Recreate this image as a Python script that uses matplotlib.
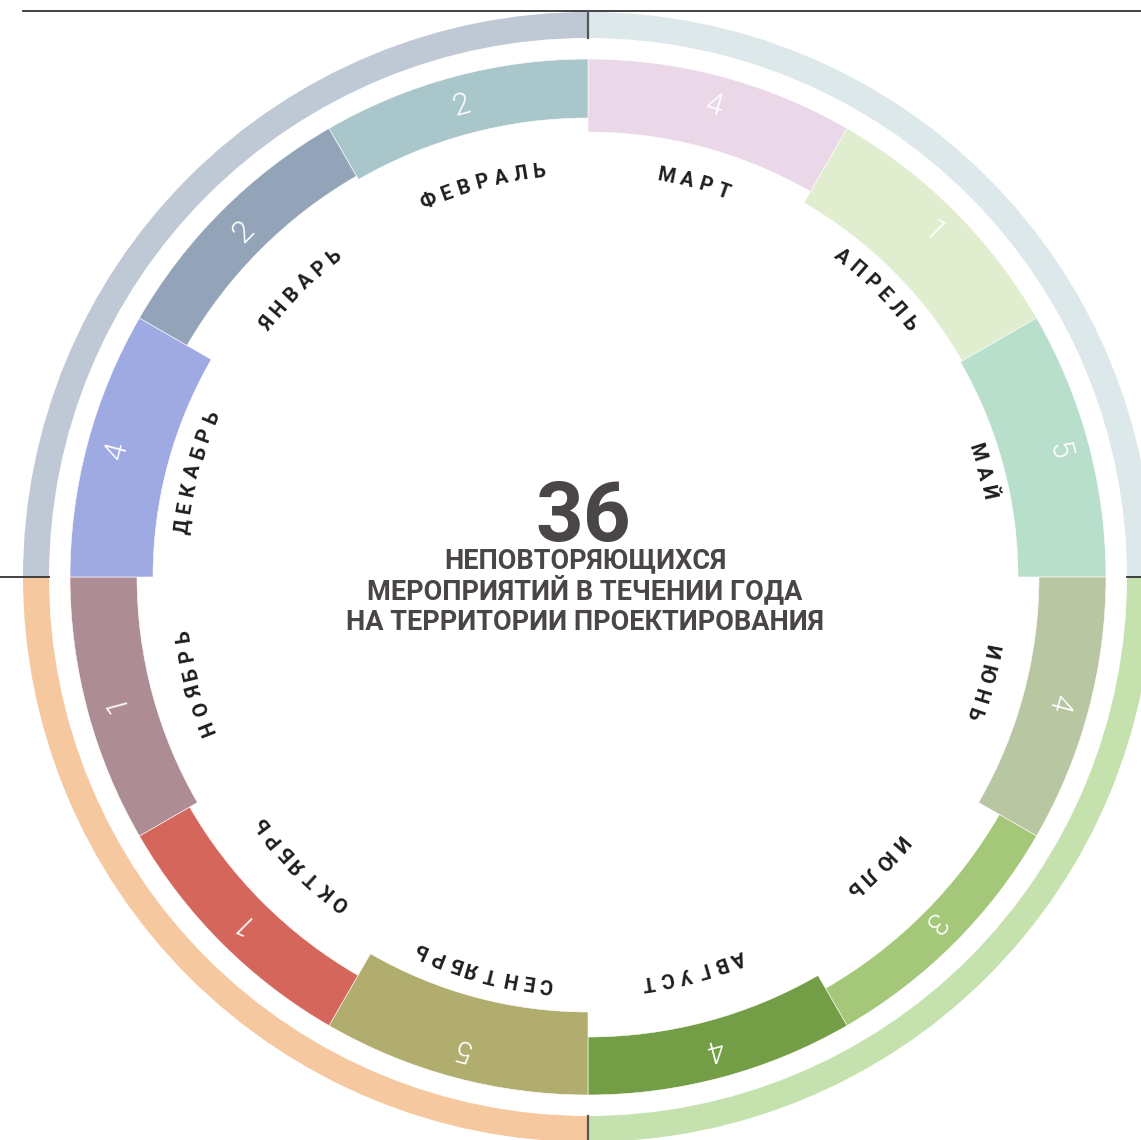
import numpy as np
import matplotlib
matplotlib.use("Agg")
import matplotlib.pyplot as plt
from matplotlib.patches import Wedge
from matplotlib.font_manager import FontProperties
from matplotlib.textpath import text_to_path

# months clockwise from 12 o'clock, events per month
months = ['МАРТ', 'АПРЕЛЬ', 'МАЙ', 'ИЮНЬ', 'ИЮЛЬ', 'АВГУСТ',
          'СЕНТЯБРЬ', 'ОКТЯБРЬ', 'НОЯБРЬ', 'ДЕКАБРЬ', 'ЯНВАРЬ', 'ФЕВРАЛЬ']
events = [4, 1, 5, 4, 3, 4, 5, 1, 1, 4, 2, 2]
caption = ['НЕПОВТОРЯЮЩИХСЯ',
           'МЕРОПРИЯТИЙ В ТЕЧЕНИИ ГОДА',
           'НА ТЕРРИТОРИИ ПРОЕКТИРОВАНИЯ']

# styling
month_colors = ['#EAD7E8', '#E0EDCF', '#B7DFCB', '#B8C6A2', '#A5C77A', '#739E46',
                '#B0AD6F', '#D4665C', '#AE8C94', '#A0AAE2', '#93A4B8', '#A9C6CB']
band_depth = [73, 86, 88, 67, 43, 58, 83, 58, 67, 83, 55, 59]
season_colors = ['#DCE8EA', '#C5E2AE', '#F5C89F', '#BFC9D5']  # spring, summer, autumn, winter
text_color = '#4A4647'

W, H = 1141, 1140
cx, cy = 588, H - 577
r_band = 518
r_season_out, r_season_in = 565, 539
r_label = 403
r_num = 488

fig = plt.figure(figsize=(W / 100, H / 100), dpi=100)
ax = fig.add_axes([0, 0, 1, 1])
ax.set_xlim(0, W)
ax.set_ylim(0, H)
ax.set_aspect('equal')
ax.axis('off')

# outer season ring
for s, col in enumerate(season_colors):
    ax.add_patch(Wedge((cx, cy), r_season_out, -90 * s, 90 - 90 * s,
                       width=r_season_out - r_season_in, facecolor=col, edgecolor='none'))

# thin frame lines
lc, lw = '#333333', 1.3
ax.plot([cx - r_season_out, W], [cy + r_season_out + 1, cy + r_season_out + 1], color=lc, lw=lw)
ax.plot([cx, cx], [cy + r_season_in, cy + r_season_out + 1], color='#555555', lw=1.6)
ax.plot([cx, cx], [0, cy - r_season_in], color='#555555', lw=1.6)
ax.plot([0, cx - r_season_in], [cy, cy], color=lc, lw=lw)
ax.plot([cx + r_season_in, W], [cy, cy], color=lc, lw=lw)

# month bands
lab_fp = FontProperties(family='Roboto', weight='bold', size=14.5)
track = 5.7
px = 100 / 72


def advance(s):
    return text_to_path.get_text_width_height_descent(s, lab_fp, ismath=False)[0] * px


for i, (name, val) in enumerate(zip(months, events)):
    t2 = 90 - 30 * i
    t1 = t2 - 30
    mid = (t1 + t2) / 2
    ax.add_patch(Wedge((cx, cy), r_band, t1, t2, width=band_depth[i],
                       facecolor=month_colors[i], edgecolor='white', lw=0.4))

    # event count
    a = np.radians(mid)
    ax.text(cx + r_num * np.cos(a), cy + r_num * np.sin(a), str(val),
            color='white', fontsize=22, family='Roboto', weight=300,
            ha='center', va='center', rotation=mid - 90, rotation_mode='anchor')

    # month name set along the arc, read clockwise, letter-spaced
    total = advance(name) + track * (len(name) - 1)
    for k, ch in enumerate(name):
        centre = advance(name[:k + 1]) - advance(ch) / 2 + track * k - total / 2
        ang = mid - np.degrees(centre / r_label)
        a = np.radians(ang)
        ax.text(cx + r_label * np.cos(a), cy + r_label * np.sin(a), ch,
                fontproperties=lab_fp, color='#1E1E1E',
                ha='center', va='baseline', rotation=ang - 90, rotation_mode='anchor')

# centre caption
ax.text(cx - 5, H - 541, str(sum(events)), color=text_color, fontsize=60,
        family='Roboto', weight='bold', ha='center', va='baseline')
for k, line in enumerate(caption):
    ax.text(cx - 3, H - (568 + 31 * k), line, color=text_color, fontsize=19.5,
            family='Roboto', weight='bold', ha='center', va='baseline')

fig.savefig('out.png', dpi=100, facecolor='white')
